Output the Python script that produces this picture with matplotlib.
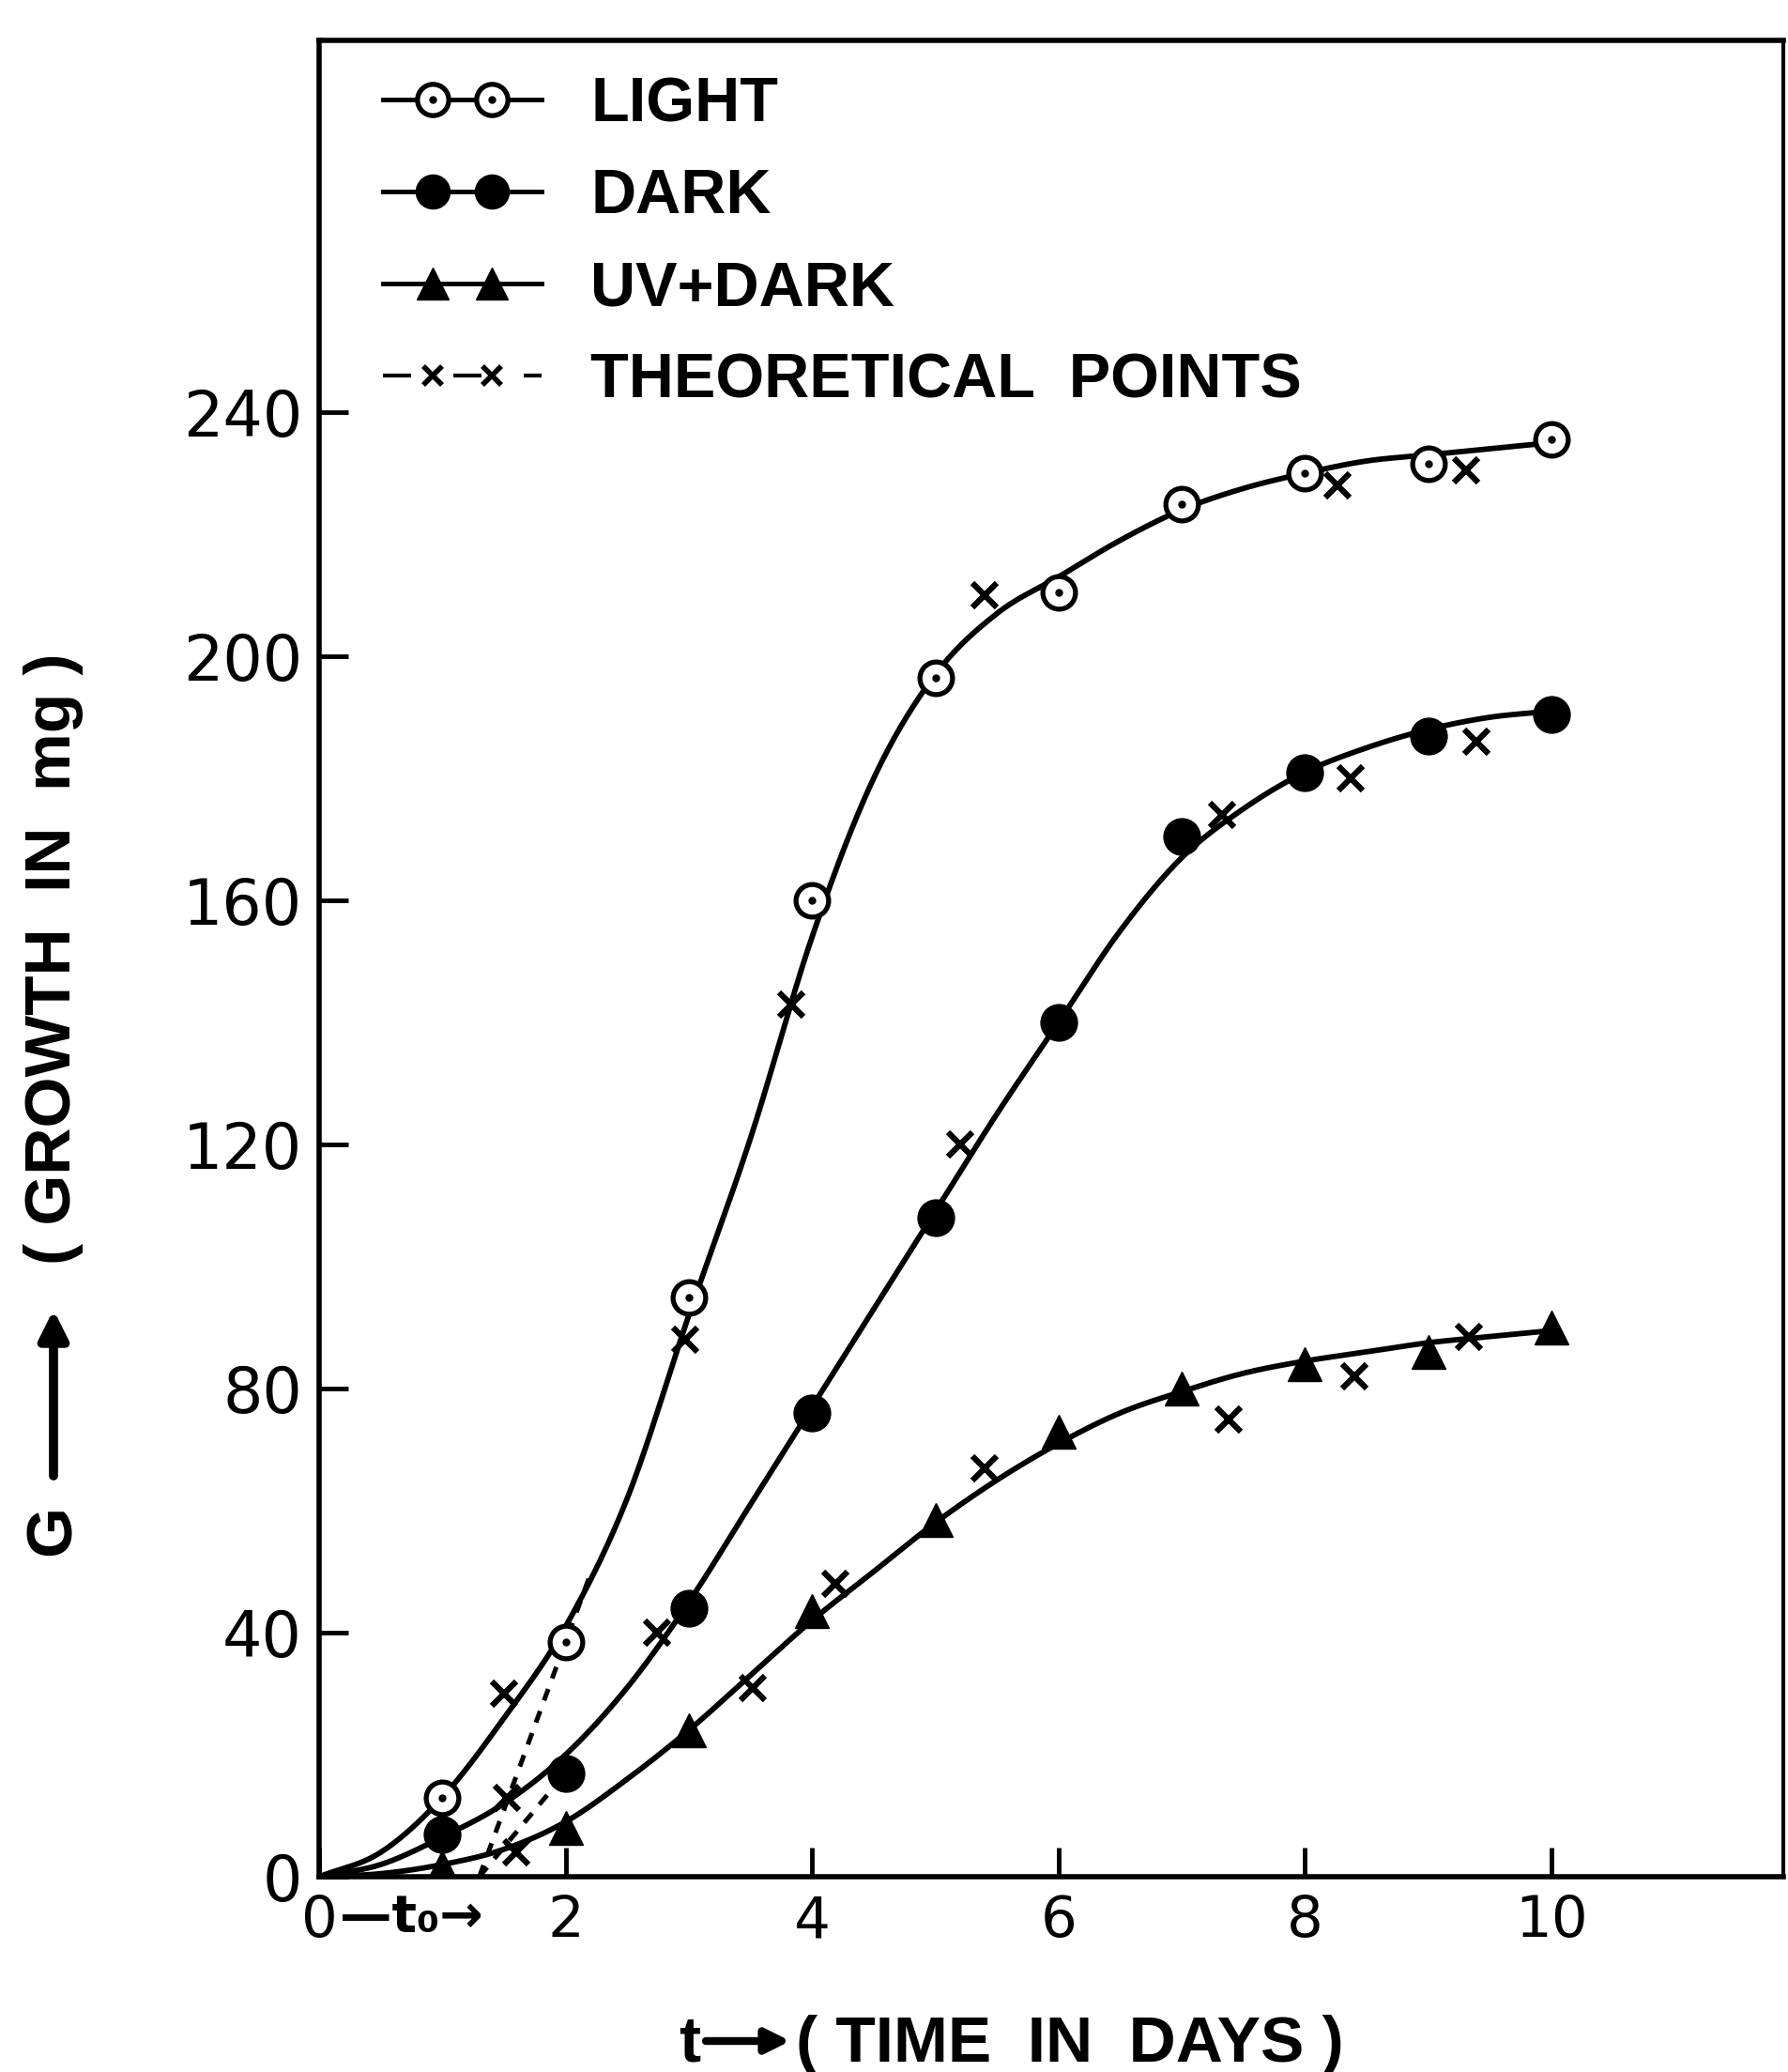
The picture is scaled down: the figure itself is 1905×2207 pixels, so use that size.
import numpy as np
import matplotlib
matplotlib.use("Agg")
import matplotlib.pyplot as plt
from matplotlib.lines import Line2D
from matplotlib.legend_handler import HandlerLine2D, HandlerTuple

# ---------------- data ----------------
days = [1, 2, 3, 4, 5, 6, 7, 8, 9, 10]
light_g = [13, 38.5, 95, 160, 196.5, 210.5, 225, 230, 231.5, 235.5]
dark_g = [7, 17, 44, 76, 108, 140, 170.5, 181, 187, 190.5]
uv_g = [1.5, 8, 24, 43.5, 58.5, 73, 80, 84, 86, 90]

# theoretical points
theo_light_t = [1.5, 2.97, 3.83, 5.4, 8.26, 9.31]
theo_light_g = [30, 88, 143, 210, 228, 230.5]
theo_dark_t = [1.52, 2.74, 5.2, 7.33, 8.37, 9.39]
theo_dark_g = [13, 40, 120, 174, 180, 186]
theo_uv_t = [1.6, 3.52, 4.19, 5.4, 7.38, 8.4, 9.33]
theo_uv_g = [4, 31, 48, 67, 75, 82, 88.5]

# hand-drawn smooth curves (read at half-day steps)
curve_t = [0, 0.5, 1, 1.5, 2, 2.5, 3, 3.5, 4, 4.5, 5, 5.5, 6, 6.5, 7, 7.5, 8,
           8.5, 9, 9.5, 10]
light_curve = [0, 4, 13, 26, 41, 62, 92, 121, 154, 180, 197, 207, 213, 219,
               224, 227.5, 230, 232, 233, 234, 235]
dark_curve = [0, 2, 6.5, 12, 20, 31, 45, 61, 77, 93, 109, 125, 140, 155, 167,
              175, 181, 185, 188, 190, 191]
uv_curve = [0, 0.5, 2, 4.5, 9, 16, 24, 33, 42, 50, 58, 65, 71, 76, 79.5, 82.5,
            84.5, 86, 87.5, 88.5, 89.5]

# extrapolated lag lines (dashed)
lag_light_t = [1.3, 2.2]
lag_light = [0, 49.5]
lag_dark_t = [1.3, 2.0]
lag_dark = [0, 17]

xticks = [0, 2, 4, 6, 8, 10]
xticklabels = ["0", "2", "4", "6", "8", "10"]
yticks = [0, 40, 80, 120, 160, 200, 240]
yticklabels = ["0", "40", "80", "120", "160", "200", "240"]

legend_labels = ["LIGHT", "DARK", "UV+DARK", "THEORETICAL  POINTS"]


def smooth(x, y, n=30):
    P = np.column_stack([np.asarray(x, float), np.asarray(y, float)])
    P = np.vstack([2 * P[0] - P[1], P, 2 * P[-1] - P[-2]])
    out = []
    t = np.linspace(0, 1, n, endpoint=False)[:, None]
    for i in range(1, len(P) - 2):
        p0, p1, p2, p3 = P[i - 1], P[i], P[i + 1], P[i + 2]
        seg = 0.5 * (2 * p1 + (-p0 + p2) * t + (2 * p0 - 5 * p1 + 4 * p2 - p3) * t ** 2
                     + (-p0 + 3 * p1 - 3 * p2 + p3) * t ** 3)
        out.append(seg)
    out.append(P[-2][None, :])
    out = np.vstack(out)
    return out[:, 0], out[:, 1]


W, H = 1905, 2207
fig = plt.figure(figsize=(W / 100, H / 100), dpi=100)
ax = fig.add_axes([340 / W, 208 / H, 1560 / W, 1956 / H])
ax.set_xlim(0, 1560 / 131.3)
ax.set_ylim(0, 1956 / 6.5)

LW = 4.2
for cy in (light_curve, dark_curve, uv_curve):
    sx, sy = smooth(curve_t, cy)
    ax.plot(sx, sy, color="k", lw=LW, solid_capstyle="round", zorder=2)

ax.plot(lag_light_t, lag_light, color="k", lw=3.6, ls=(0, (2.6, 2.4)), zorder=2)
ax.plot(lag_dark_t, lag_dark, color="k", lw=3.6, ls=(0, (2.6, 2.4)), zorder=2)

ax.plot(days, light_g, ls="none", marker="o", ms=25, mfc="white", mec="k",
        mew=3.8, zorder=4)
ax.plot(days, light_g, ls="none", marker="o", ms=5, color="k", zorder=5)
ax.plot(days, dark_g, ls="none", marker="o", ms=28, color="k", zorder=4)
ax.plot(days, uv_g, ls="none", marker="^", ms=26, color="k", zorder=4)
for tt, gg in ((theo_light_t, theo_light_g), (theo_dark_t, theo_dark_g),
               (theo_uv_t, theo_uv_g)):
    ax.plot(tt, gg, ls="none", marker="x", ms=19, mew=4.5, color="k", zorder=4)

# axes styling
for s in ax.spines.values():
    s.set_linewidth(4)
ax.spines["right"].set_linewidth(3)
ax.set_xticks(xticks)
ax.set_xticklabels(xticklabels)
ax.set_yticks(yticks)
ax.set_yticklabels(yticklabels)
ax.tick_params(direction="in", length=22, width=3.5, pad=13)
for lab in ax.get_xticklabels():
    lab.set_fontfamily(["DejaVu Sans"])
    lab.set_fontsize(44)
for lab in ax.get_yticklabels():
    lab.set_fontfamily(["DejaVu Sans"])
    lab.set_fontsize(48)

# t0 marker under x axis
ax.text(0.75, -0.0225, "—t₀→", transform=ax.get_xaxis_transform(),
        ha="center", va="center", fontsize=40, family=["DejaVu Sans"],
        fontweight="bold")

lab_font = dict(family=["Liberation Sans", "DejaVu Sans"],
                weight="bold", size=48)
ylab_font = dict(family=["Liberation Sans", "DejaVu Sans"],
                 weight="bold", size=50)

# legend
base_light = Line2D([], [], color="k", lw=3.5)
base_dark = Line2D([], [], color="k", lw=3.5)
base_uv = Line2D([], [], color="k", lw=3.5)
base_theo = Line2D([], [], color="k", lw=3, ls=(0, (7.2, 10.8)))
h_light = (base_light,
           Line2D([], [], ls="none", marker="o", ms=24, mfc="white",
                  mec="k", mew=3.8),
           Line2D([], [], ls="none", marker="o", ms=5, color="k"))
h_dark = (base_dark, Line2D([], [], ls="none", color="k", marker="o", ms=26))
h_uv = (base_uv, Line2D([], [], ls="none", color="k", marker="^", ms=25))
h_theo = (base_theo, Line2D([], [], ls="none", color="k", marker="x", ms=14,
                            mew=4))
hmap = {Line2D: HandlerLine2D(marker_pad=0.8),
        tuple: HandlerTuple(ndivide=1)}
for b in (base_light, base_dark, base_uv, base_theo):
    hmap[b] = HandlerLine2D(marker_pad=0)
ax.legend([h_light, h_dark, h_uv, h_theo], legend_labels,
          loc="upper left", bbox_to_anchor=(408 / W, 1 - 81 / H),
          bbox_transform=fig.transFigure, frameon=False, borderpad=0,
          borderaxespad=0, handlelength=2.54, handletextpad=0.78,
          labelspacing=0.54, numpoints=2, prop=lab_font, handler_map=hmap)

# y-axis label: G  ---->  ( GROWTH IN mg )
fig.text(57 / W, 1 - 1630 / H, "G", rotation=90, ha="center", va="center",
         **ylab_font)
ax.annotate("", xy=(57 / W, 1 - 1395 / H), xytext=(57 / W, 1 - 1572 / H),
            xycoords="figure fraction", textcoords="figure fraction",
            arrowprops=dict(arrowstyle="-|>", lw=7, color="k",
                            mutation_scale=45, shrinkA=0, shrinkB=0))
fig.text(57 / W, 1 - 1021 / H, "( GROWTH  IN  mg )", rotation=90,
         ha="center", va="center", **ylab_font)

# x-axis label: t ---> ( TIME IN DAYS )
fig.text(735 / W, 1 - 2196 / H, "t", ha="center", va="baseline", **ylab_font)
ax.annotate("", xy=(842 / W, 1 - 2174 / H), xytext=(752 / W, 1 - 2174 / H),
            xycoords="figure fraction", textcoords="figure fraction",
            arrowprops=dict(arrowstyle="-|>", lw=6, color="k",
                            mutation_scale=38, shrinkA=0, shrinkB=0))
fig.text(1140 / W, 1 - 2196 / H, "( TIME  IN  DAYS )", ha="center",
         va="baseline", **ylab_font)

fig.savefig("out.png", dpi=100)
